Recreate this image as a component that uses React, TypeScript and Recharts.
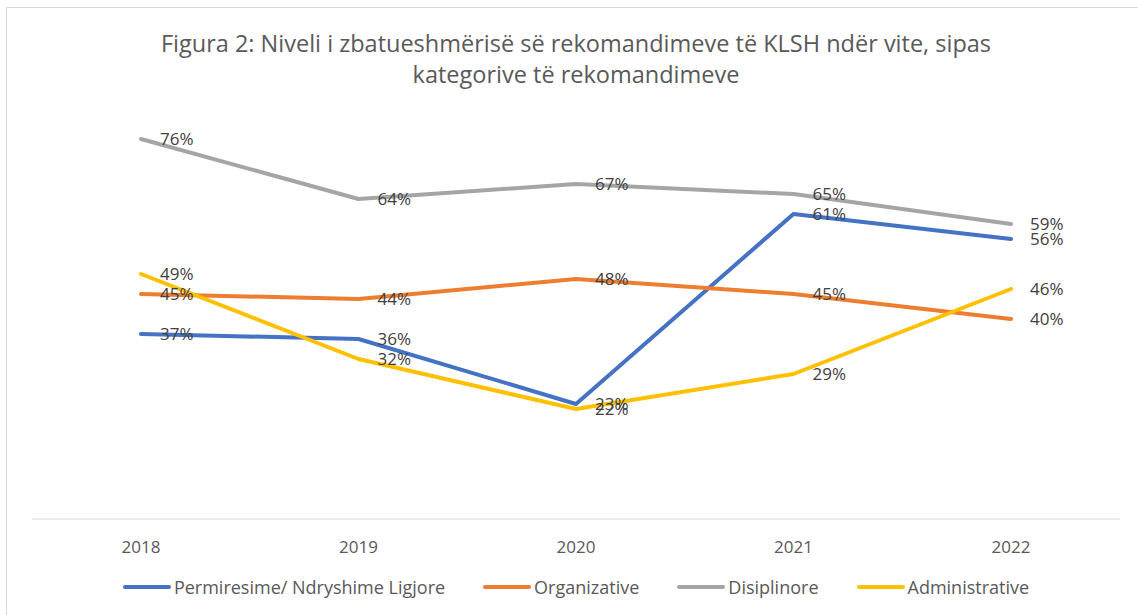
import { LineChart, Line, XAxis, YAxis, Legend, LabelList } from 'recharts';

const years = ['2018', '2019', '2020', '2021', '2022'];
const permiresime = [0.37, 0.36, 0.23, 0.61, 0.56];
const organizative = [0.45, 0.44, 0.48, 0.45, 0.4];
const disiplinore = [0.76, 0.64, 0.67, 0.65, 0.59];
const administrative = [0.49, 0.32, 0.22, 0.29, 0.46];

const series = [
  { key: 'perm', name: 'Permiresime/ Ndryshime Ligjore', color: '#4472C4', values: permiresime },
  { key: 'org', name: 'Organizative', color: '#ED7D31', values: organizative },
  { key: 'dis', name: 'Disiplinore', color: '#A5A5A5', values: disiplinore },
  { key: 'adm', name: 'Administrative', color: '#FFC000', values: administrative },
];

const data = years.map((year, i) => {
  const row: Record<string, string | number> = { year };
  series.forEach((s) => {
    row[s.key] = s.values[i];
  });
  return row;
});

const FONT = '"Open Sans", "Noto Sans", sans-serif';

const renderLabel = (props: any) => {
  const { x, y, value } = props;
  return (
    <text x={x + 19} y={y} dy={6} fill="#404040" fontSize={17} fontFamily={FONT}>
      {Math.round(value * 100)}%
    </text>
  );
};

const renderLegend = () => (
  <div style={{ display: 'flex', justifyContent: 'center', gap: 38, fontFamily: FONT, fontSize: 18, color: '#595959' }}>
    {series.map((s) => (
      <div key={s.key} style={{ display: 'flex', alignItems: 'center' }}>
        <div style={{ width: 48, height: 4, borderRadius: 2, backgroundColor: s.color, marginRight: 3 }} />
        <span>{s.name}</span>
      </div>
    ))}
  </div>
);

export default function App() {
  return (
    <div style={{ position: 'absolute', left: 0, top: 0, width: 1138, height: 615, background: '#fff', overflow: 'hidden' }}>
      <div style={{ position: 'absolute', left: 6, top: 7, width: 1150, height: 620, border: '1px solid #d9d9d9' }} />
      <div
        style={{
          position: 'absolute',
          left: 0,
          top: 28,
          width: 1152,
          textAlign: 'center',
          fontFamily: FONT,
          fontSize: 23.5,
          lineHeight: '31px',
          color: '#595959',
        }}
      >
        Figura 2: Niveli i zbatueshmërisë së rekomandimeve të KLSH ndër vite, sipas
        <br />
        kategorive të rekomandimeve
      </div>
      <div style={{ position: 'absolute', left: 0, top: 0 }}>
        <LineChart width={1138} height={615} data={data} margin={{ top: 119, right: 18, bottom: 0, left: 32 }}>
          <XAxis
            dataKey="year"
            padding={{ left: 109, right: 109 }}
            axisLine={{ stroke: '#d9d9d9', strokeWidth: 1 }}
            tickLine={false}
            tick={{ fill: '#595959', fontSize: 17, fontFamily: FONT }}
            tickMargin={16}
            height={52}
          />
          <YAxis hide domain={[0, 0.8]} />
          <Legend
            verticalAlign="bottom"
            height={44}
            content={renderLegend}
            wrapperStyle={{ top: 575, bottom: 'auto', left: 0, width: 1152 }}
          />
          {series.map((s) => (
            <Line
              key={s.key}
              dataKey={s.key}
              name={s.name}
              stroke={s.color}
              strokeWidth={4}
              strokeLinecap="round"
              strokeLinejoin="round"
              dot={false}
              isAnimationActive={false}
            >
              <LabelList dataKey={s.key} content={renderLabel} />
            </Line>
          ))}
        </LineChart>
      </div>
    </div>
  );
}
